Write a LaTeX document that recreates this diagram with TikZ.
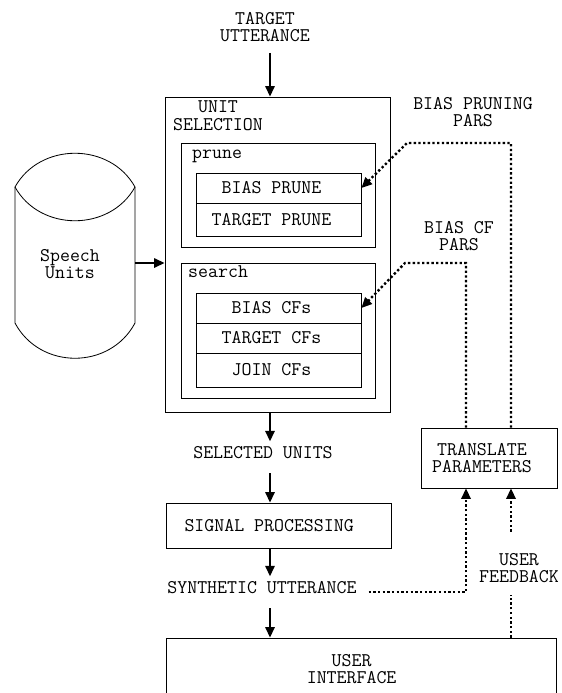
\documentclass[tikz,border=0pt]{standalone}
\usetikzlibrary{calc, arrows.meta, fit, positioning}

\begin{document}
\begin{tikzpicture}[x=.03cm, y=-.03cm, font=\ttfamily\fontsize{16.5}{15.2}\selectfont,
    box/.style={draw, line width=.7pt, inner sep=0pt},
    lbl/.style={align=center, inner sep=0pt},
    txt/.style={lbl, xshift=-6pt},
    arr/.style={line width=1.6pt, -{Triangle[length=9pt,width=8pt]}},
    fb/.style={line width=2pt, dash pattern=on 2pt off 2pt},
    fbarr/.style={fb, -{Triangle[length=9pt,width=8pt]}},
    from lbl/.style={shorten <=12pt},
    to lbl/.style={shorten >=4.5pt}]
  \useasboundingbox (0,0) rectangle (562,693);

  \draw[line width=.7pt] (15,187) .. controls (40,142) and (110,142) .. (135,187) -- (135,323)
    .. controls (110,370) and (40,370) .. (15,323) -- cycle;
  \draw[line width=.7pt] (15,187) .. controls (40,232) and (110,232) .. (135,187);
  \node[lbl] (store) at (70,264) {Speech\\Units};
  \coordinate (storeE) at (135,263);

  \node[lbl] (target) at (265,27) {TARGET\\UTTERANCE};
  \coordinate (col) at (270,0);

  \node[box, fit={(165,97) (390,412)}] (unitsel) {};
  \node[lbl] (unitlbl) at (218,116) {UNIT\\SELECTION};
  \node[box, fit={(181,143) (375,247)}] (prune) {};
  \node[lbl, anchor=base west] (prunelbl) at (192,158) {prune};
  \node[box, fit={(181,263) (375,398)}] (search) {};
  \node[lbl, anchor=base west] (searchlbl) at (188,277) {search};
  \foreach \name/\ya/\yb/\txt in {biasprune/173/203/BIAS PRUNE, targetprune/203/236/TARGET PRUNE,
      biascf/293/323/BIAS CFs, targetcf/323/353/TARGET CFs, joincf/353/387/JOIN CFs}
    \node[box, fit={(196,\ya) (361,\yb)}, label={[txt]center:\txt}] (\name) {};

  \node[lbl] (selected) at (263,453) {SELECTED UNITS};
  \node[box, fit={(166,503) (391,548)}, label={[txt, xshift=-2pt]center:SIGNAL PROCESSING}] (signal) {};
  \node[lbl] (synth) at (262,588) {SYNTHETIC UTTERANCE};
  \node[box, fit={(166,638) (556,700)}, label={[txt, xshift=-2pt]center:USER\\INTERFACE}] (ui) {};

  \node[box, fit={(421,428) (557,488)}, label={[txt]center:TRANSLATE\\PARAMETERS}] (translate) {};
  \node[lbl] (feedback) at (519,568) {USER\\FEEDBACK};
  \node[lbl] (prunepars) at (473,112) {BIAS PRUNING\\PARS};
  \node[lbl] (cfpars) at (459,236) {BIAS CF\\PARS};
  \coordinate (colL) at ($(translate.center)+(-23,0)$);
  \coordinate (colR) at ($(translate.center)+(22,0)$);
  \coordinate (prunebend) at (407,143);
  \coordinate (cfbend) at (405,263);

  \draw[arr, shorten <=9pt] (target.south -| col) -- (unitsel.north -| col);
  \draw[arr, to lbl] (unitsel.south -| col) -- (selected.north -| col);
  \draw[arr, from lbl] (selected.south -| col) -- (signal.north -| col);
  \draw[arr, to lbl] (signal.south -| col) -- (synth.north -| col);
  \draw[arr, from lbl] (synth.south -| col) -- (ui.north -| col);
  \draw[arr] (storeE) -- (storeE -| unitsel.west);

  \draw[fbarr] (translate.north -| colR) |- (prunebend) -- (biasprune.east);
  \draw[fbarr] (translate.north -| colL) |- (cfbend) -- (biascf.east);
  \draw[fbarr, shorten <=10pt] ($(synth.east)+(0,4)$) -| (translate.south -| colL);
  \draw[fb, shorten >=9.8pt] (ui.north -| colR) -- (feedback.south -| colR);
  \draw[fbarr, shorten <=18pt] (feedback.north -| colR) -- (translate.south -| colR);
\end{tikzpicture}
\end{document}
